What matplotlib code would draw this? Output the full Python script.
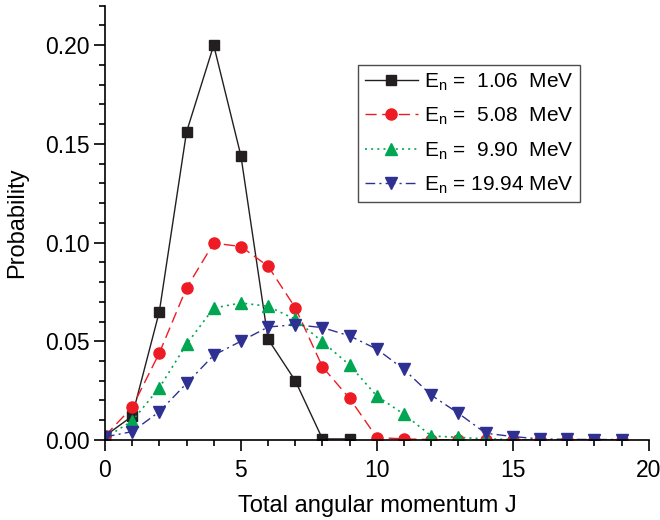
import matplotlib
matplotlib.use("Agg")
from matplotlib import pyplot as plt
from matplotlib.ticker import MultipleLocator, FormatStrFormatter

plt.rcParams['font.family'] = ['Liberation Sans', 'DejaVu Sans']
plt.rcParams['mathtext.fontset'] = 'custom'
plt.rcParams['mathtext.rm'] = 'Liberation Sans'

J_black = list(range(0, 10))
p_106 = [0.002, 0.012, 0.065, 0.156, 0.200, 0.144, 0.051, 0.030, 0.0005, 0.0005]

J = list(range(0, 20))
p_508 = [0.002, 0.0165, 0.044, 0.077, 0.0997, 0.098, 0.088, 0.067, 0.037, 0.021,
         0.0012, 0.0005, 0.0002, 0.0, 0.0, 0.0, 0.0, 0.0, 0.0, 0.0]
p_990 = [0.001, 0.0096, 0.0264, 0.0485, 0.0668, 0.0694, 0.0677, 0.0611, 0.0497, 0.0379,
         0.0222, 0.013, 0.002, 0.0013, 0.0005, 0.0002, 0.0, 0.0, 0.0, 0.0]
p_1994 = [0.0015, 0.0042, 0.0143, 0.0286, 0.0429, 0.050, 0.0572, 0.0584, 0.0569, 0.0527,
          0.046, 0.0357, 0.0227, 0.0135, 0.0034, 0.0017, 0.0005, 0.0003, 0.0002, 0.0002]

labels = [r'E$_\mathrm{n}$ =  1.06  MeV',
          r'E$_\mathrm{n}$ =  5.08  MeV',
          r'E$_\mathrm{n}$ =  9.90  MeV',
          r'E$_\mathrm{n}$ = 19.94 MeV']

fig = plt.figure(figsize=(6.6, 5.2), dpi=100)
ax = fig.add_axes([0.159, 0.154, 0.824, 0.835])

ax.plot(J_black, p_106, color='#231f20', ls='-', lw=1.0, marker='s', ms=7.5, label=labels[0])
ax.plot(J, p_508, color='#ed1c24', ls=(0, (8, 4)), lw=1.0, marker='o', ms=8, label=labels[1])
ax.plot(J, p_990, color='#00a651', ls=(0, (1.2, 2.5)), lw=1.2, marker='^', ms=8, label=labels[2])
ax.plot(J, p_1994, color='#2e3192', ls=(0, (7, 3, 1.5, 3)), lw=1.0, marker='v', ms=8, label=labels[3])

ax.set_xlim(0, 20)
ax.set_ylim(0, 0.22)
ax.xaxis.set_major_locator(MultipleLocator(5))
ax.xaxis.set_minor_locator(MultipleLocator(1))
ax.yaxis.set_major_locator(MultipleLocator(0.05))
ax.yaxis.set_minor_locator(MultipleLocator(0.01))
ax.yaxis.set_major_formatter(FormatStrFormatter('%.2f'))

ax.spines['top'].set_visible(False)
ax.spines['right'].set_visible(False)
ax.spines['left'].set_linewidth(1.2)
ax.spines['bottom'].set_linewidth(1.2)
ax.tick_params(which='major', direction='out', length=8, width=1.2, labelsize=16.5, pad=3)
ax.tick_params(axis='x', which='major', pad=6)
ax.tick_params(which='minor', direction='out', length=4, width=1.2)

ax.set_xlabel('Total angular momentum J', fontsize=17, labelpad=9)
ax.set_ylabel('Probability', fontsize=17, labelpad=12)

leg = ax.legend(loc='upper right', bbox_to_anchor=(0.873, 0.864), borderaxespad=0,
                fontsize=15, frameon=True, fancybox=False, edgecolor='#231f20',
                handlelength=2.55, handletextpad=0.3, labelspacing=0.62, borderpad=0.3)
leg.get_frame().set_linewidth(1.0)

plt.savefig('out.png', dpi=100)
